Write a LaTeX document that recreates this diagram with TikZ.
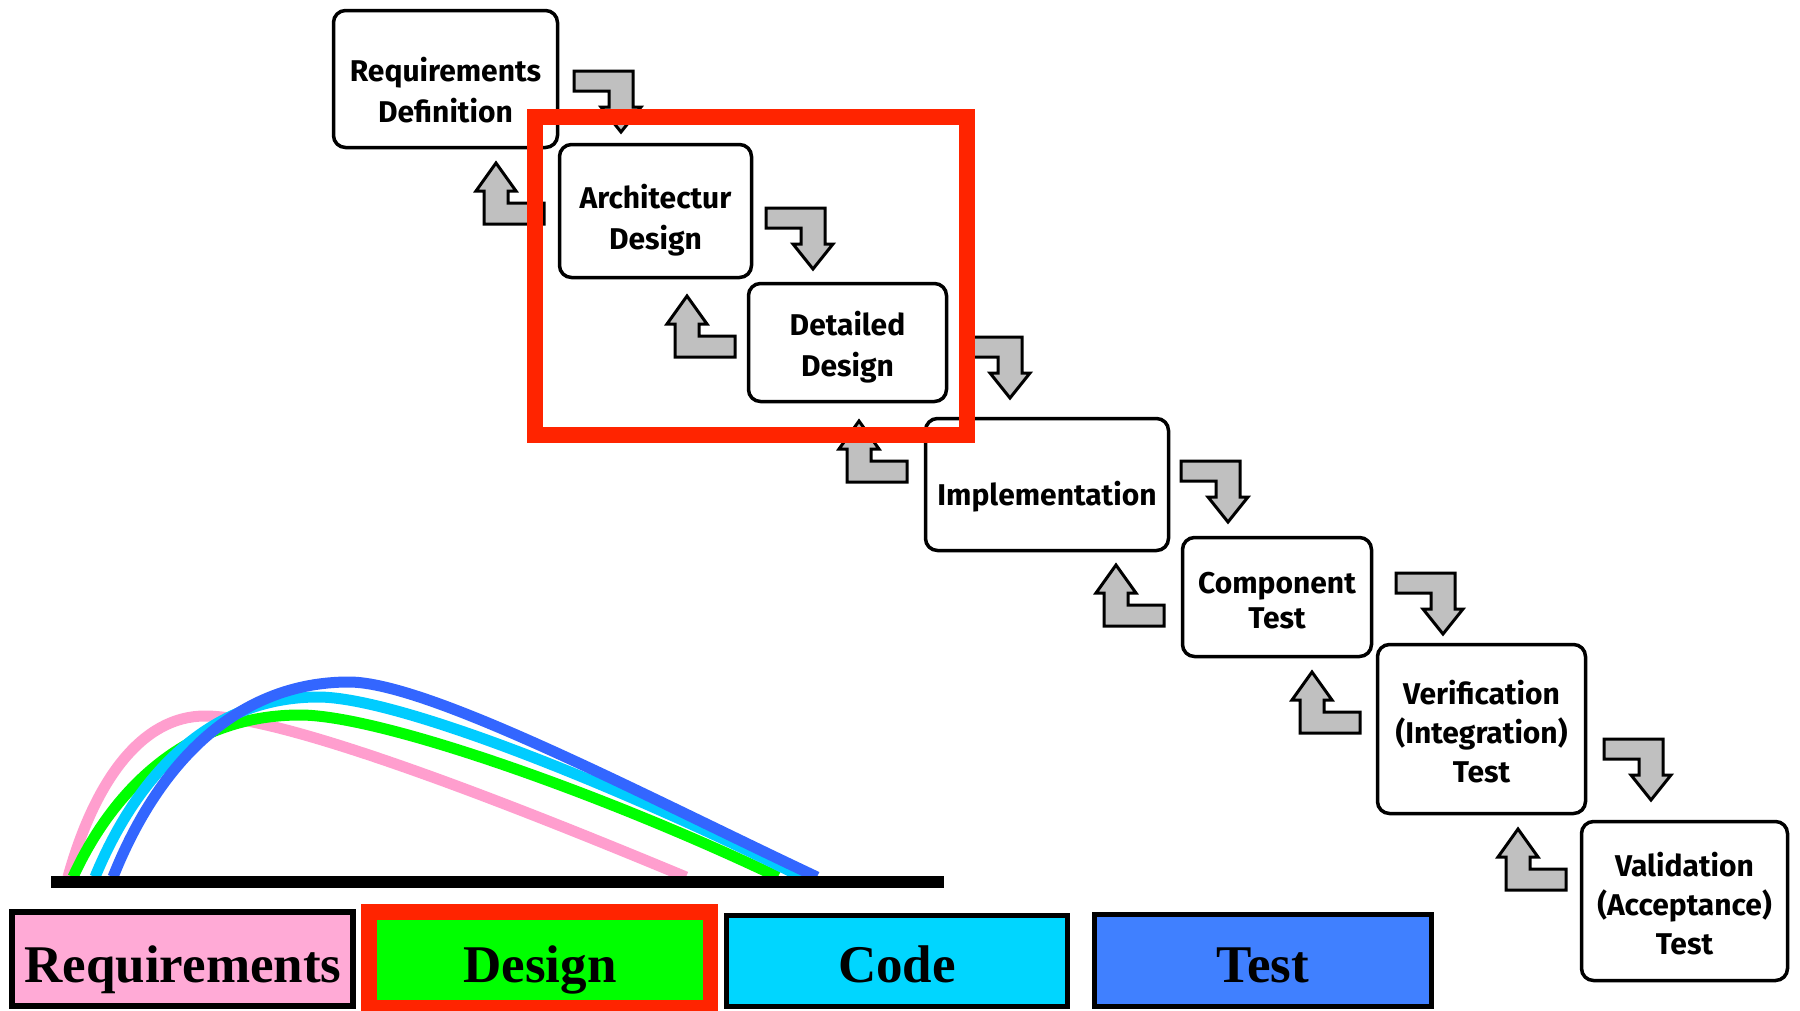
\documentclass[tikz,border=0pt]{standalone}
\usepackage{fontspec}
\setmainfont{Liberation Serif}
\newfontfamily\stagefont{Fira Sans}

\definecolor{arrgray}{RGB}{192,192,192}
\definecolor{reqpink}{RGB}{255,170,214}
\definecolor{curvepink}{RGB}{255,158,206}
\definecolor{desgreen}{RGB}{0,255,0}
\definecolor{codecyan}{RGB}{0,214,255}
\definecolor{curvecyan}{RGB}{0,204,255}
\definecolor{testblue}{RGB}{64,128,255}
\definecolor{curveblue}{RGB}{51,102,255}
\definecolor{framered}{RGB}{255,36,0}

\tikzset{
  stage/.style={draw, line width=3.5pt, fill=white, rounded corners=12pt, inner sep=0pt},
  stagetext/.style={align=center, inner sep=0pt,
    font=\stagefont\bfseries\fontsize{30}{#1}\selectfont},
  stagetext/.default=39,
  blockarrow/.style={draw, line width=3pt, fill=arrgray, line join=miter},
  % L-shaped block arrow pointing down, origin at the tip
  downarr/.pic={\path[blockarrow] (-47,-61) -- (12,-61) -- (12,-25) -- (20,-25)
      -- (0,0) -- (-20,-25) -- (-12,-25) -- (-12,-41) -- (-47,-41) -- cycle;},
  % L-shaped block arrow pointing up, origin at the tip
  uparr/.pic={\path[blockarrow] (0,0) -- (20,28) -- (12,28) -- (12,40) -- (48,40)
      -- (48,61) -- (-12,61) -- (-12,28) -- (-20,28) -- cycle;},
  legbox/.style={draw, line width=5pt, inner sep=0pt},
  legtext/.style={anchor=base, inner sep=0pt,
    font=\bfseries\fontsize{53}{60}\selectfont},
  phase/.style={line width=11pt, line cap=butt},
}

\begin{document}
\begin{tikzpicture}[x=1pt, y=-1pt]
\useasboundingbox (0,0) rectangle (1800,1010);

% waterfall stages
\node[stage, minimum width=224pt, minimum height=137pt] (reqdef) at (445.5,79) {};
\node[stage, minimum width=192pt, minimum height=133pt] (arch) at (655.5,211) {};
\node[stage, minimum width=198pt, minimum height=118pt] (detail) at (847.5,342.5) {};
\node[stage, minimum width=243pt, minimum height=132pt] (impl) at (1047,484.5) {};
\node[stage, minimum width=189pt, minimum height=119pt] (comp) at (1277,597) {};
\node[stage, minimum width=208pt, minimum height=169pt] (verif) at (1481.5,729) {};
\node[stage, minimum width=206pt, minimum height=159pt] (valid) at (1684.5,901) {};

\node[stagetext=41] (reqdefT) at ([yshift=-11pt]reqdef.center) {Requirements\\Definition};
\node[stagetext=41] (archT) at ([yshift=-9pt]arch.center) {Architectur\\Design};
\node[stagetext=41] (detailT) at ([yshift=-5pt]detail.center) {Detailed\\Design};
\node[stagetext] (implT) at ([yshift=-12pt]impl.center) {Implementation};
\node[stagetext=35] (compT) at ([yshift=-4pt]comp.center) {Component\\Test};
\node[stagetext] (verifT) at ([yshift=-3pt]verif.center) {Verification\\(Integration)\\Test};
\node[stagetext] (validT) at ([yshift=-3pt]valid.center) {Validation\\(Acceptance)\\Test};

% forward steps
\pic at (621,132) {downarr};
\pic at (813,269) {downarr};
\pic at (1010,398) {downarr};
\pic at (1228,522) {downarr};
\pic at (1443,634) {downarr};
\pic at (1651,800) {downarr};

% feedback steps
\pic at (496,163) {uparr};
\pic at (687,296) {uparr};
\pic at (859,421) {uparr};
\pic at (1116,565) {uparr};
\pic at (1312,672) {uparr};
\pic at (1518,829) {uparr};

% effort curves of the four phases
\draw[phase, curvepink] (68,877) .. controls (95,780) and (142,716) .. (205,716)
  .. controls (287,716) and (513,805) .. (686,877);
\draw[phase, desgreen] (73,877) .. controls (118,779) and (196,715) .. (300,715)
  .. controls (381,715) and (606,795) .. (778,877);
\draw[phase, curvecyan] (95,877) .. controls (140,768) and (215,697) .. (318,697)
  .. controls (400,697) and (628,790) .. (802,877);
\draw[phase, curveblue] (113,877) .. controls (160,759) and (240,682) .. (349,682)
  .. controls (429,682) and (649,798) .. (817,877);

% time axis
\coordinate (axisL) at (51,881.5);
\coordinate (axisR) at (944,881.5);
\draw[line width=12pt] (axisL) -- (axisR);

% legend
\node[legbox, fill=reqpink, line width=6pt, minimum width=341pt, minimum height=94pt] (legreq) at (182.5,959) {};
\node[fill=framered, inner sep=0pt, minimum width=357pt, minimum height=110pt] (legdesframe) at (539.5,959) {};
\node[fill=desgreen, inner sep=0pt, minimum width=326pt, minimum height=80pt] (legdes) at (540,960) {};
\node[legbox, fill=codecyan, minimum width=341pt, minimum height=91pt] (legcode) at (897,961) {};
\node[legbox, fill=testblue, minimum width=337pt, minimum height=92pt] (legtest) at (1263,960.5) {};
\node[legtext] (treq) at (183,982) {Requirements};
\node[legtext] (tdes) at (540,982) {Design};
\node[legtext] (tcode) at (897,982) {Code};
\node[legtext] (ttest) at (1263,982) {Test};

% highlight around the design stages
\node[draw=framered, line width=16pt, inner sep=0pt, minimum width=432pt, minimum height=318pt] (focus) at (751,276) {};
\end{tikzpicture}
\end{document}
